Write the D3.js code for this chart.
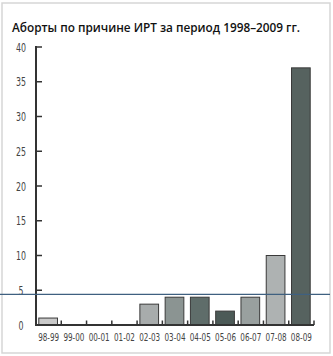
<!DOCTYPE html>
<html><head><meta charset="utf-8">
<script src="https://cdn.jsdelivr.net/npm/d3@7"></script>
<style>html,body{margin:0;padding:0;background:#fff;}svg{display:block;}</style>
</head><body>
<script>
const title = "Аборты по причине ИРТ за период 1998–2009 гг.";
const categories = ["98-99","99-00","00-01","01-02","02-03","03-04","04-05","05-06","06-07","07-08","08-09"];
const values = [1,0,0,0,3,4,4,2,4,10,37];
const barColors = ["#c9c9c9","#c9c9c9","#c9c9c9","#c9c9c9","#a8acac","#8b9492","#5f6d6a","#4c5a57","#99a09f","#aeb2b2","#56625f"];
const yTicks = [0,5,10,15,20,25,30,35,40];
const refValue = 4.4;

const W = 333, H = 356;
const svg = d3.select("body").append("svg").attr("width", W).attr("height", H);

// frame
svg.append("rect").attr("x",2).attr("y",3).attr("width",328).attr("height",350)
  .attr("fill","#fff").attr("stroke","#d6d6d6").attr("stroke-width",1.5);

svg.append("text").attr("x",12).attr("y",31.5).text(title)
  .attr("font-family","'Open Sans', 'Noto Sans', sans-serif").attr("font-weight",600)
  .attr("font-size",13).attr("fill","#111")
  .attr("textLength",288).attr("lengthAdjust","spacingAndGlyphs");

const x = d3.scaleBand().domain(categories).range([36,314]).padding(0);
const y = d3.scaleLinear().domain([0,40]).range([325,47]);
const step = x.bandwidth();

// bars
svg.selectAll("rect.bar").data(categories.map((c,i)=>({c,v:values[i],col:barColors[i]})).filter(d=>d.v>0))
  .enter().append("rect").attr("class","bar")
  .attr("x", d=>x(d.c)+step*0.11).attr("width", step*0.74)
  .attr("y", d=>y(d.v)).attr("height", d=>y(0)-y(d.v))
  .attr("fill", d=>d.col).attr("stroke","#3a3a3a").attr("stroke-width",1);

// axes
const axCol = "#333";
svg.append("line").attr("x1",36).attr("x2",36).attr("y1",y(40)-1).attr("y2",y(0)+1)
  .attr("stroke",axCol).attr("stroke-width",2);
svg.append("line").attr("x1",35).attr("x2",314).attr("y1",y(0)).attr("y2",y(0))
  .attr("stroke",axCol).attr("stroke-width",2);

yTicks.filter(t=>t>0).forEach(t=>{
  svg.append("line").attr("x1",36).attr("x2",42).attr("y1",y(t)).attr("y2",y(t))
    .attr("stroke",axCol).attr("stroke-width",1.5);
});
yTicks.forEach(t=>{
  svg.append("text").attr("x",21).attr("y",y(t)+4.5).attr("text-anchor","middle")
    .attr("font-family","'Liberation Sans Narrow','DejaVu Sans Condensed',Roboto,sans-serif")
    .attr("font-size",12).attr("fill","#444")
    .attr("textLength", String(t).length*5).attr("lengthAdjust","spacingAndGlyphs")
    .text(t);
});

categories.forEach(c=>{
  const bx = x(c)+step;
  svg.append("line").attr("x1",bx).attr("x2",bx).attr("y1",y(0)).attr("y2",y(0)-4.5)
    .attr("stroke",axCol).attr("stroke-width",1.5);
  svg.append("text").attr("x",x(c)+step/2).attr("y",341).attr("text-anchor","middle")
    .attr("font-family","'Liberation Sans Narrow','DejaVu Sans Condensed',Roboto,sans-serif")
    .attr("font-size",10.5).attr("fill","#444")
    .attr("textLength",21).attr("lengthAdjust","spacingAndGlyphs")
    .text(c);
});

// reference line
svg.append("line").attr("x1",0).attr("x2",330).attr("y1",y(refValue)).attr("y2",y(refValue))
  .attr("stroke","#3f6080").attr("stroke-width",1.2);
</script>
</body></html>
